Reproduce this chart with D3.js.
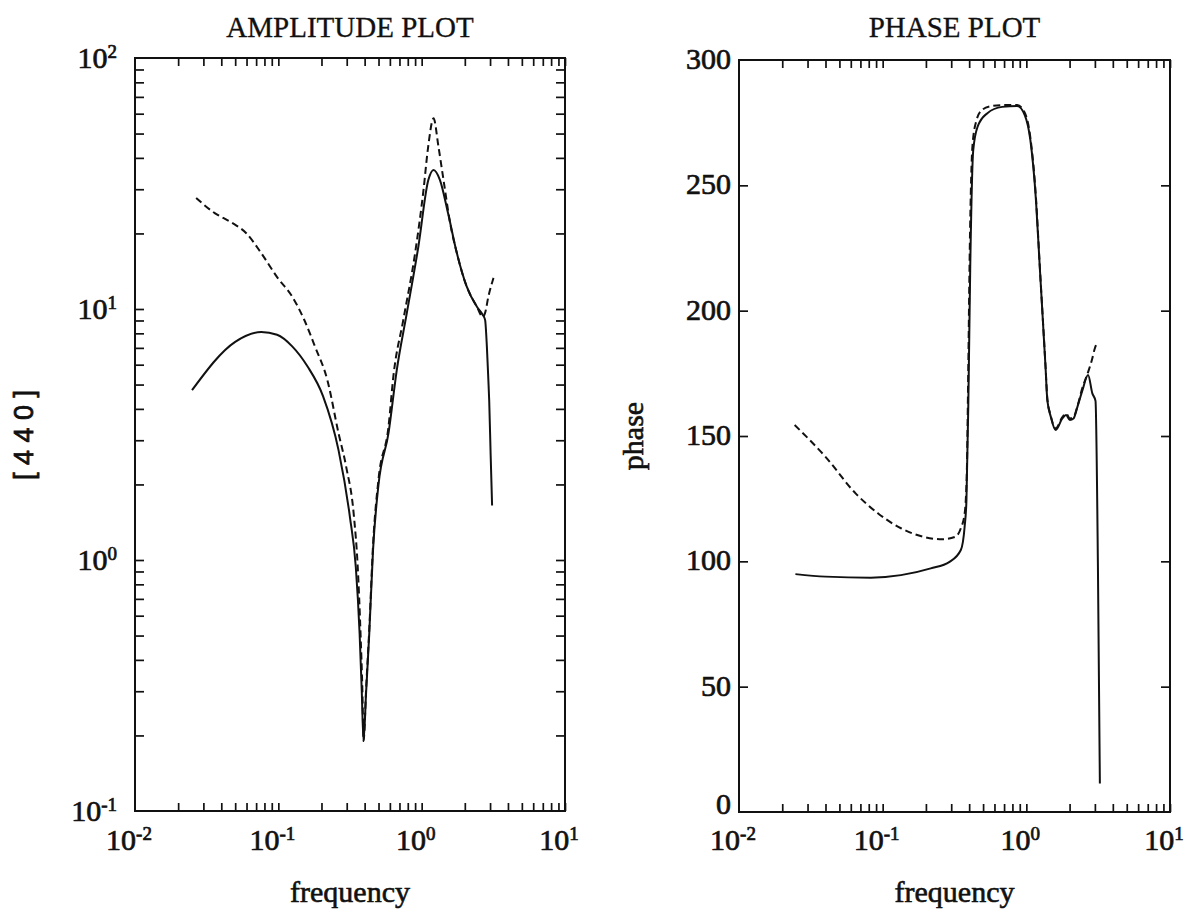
<!DOCTYPE html>
<html>
<head>
<meta charset="utf-8">
<script src="https://cdn.jsdelivr.net/npm/d3@7"></script>
<style>
body { margin: 0; background: #fff; }
text { font-family: "Liberation Serif", "DejaVu Serif", serif; fill: #111; }
</style>
</head>
<body>
<svg id="chart" width="1186" height="920"></svg>
<script>
// amplitude, solid curve
var ampFreqSolid = [0.025, 0.05, 0.076, 0.098, 0.125, 0.16, 0.205, 0.263, 0.316, 0.347, 0.369, 0.382, 0.393, 0.41, 0.431, 0.458, 0.50, 0.587, 0.67, 0.787, 0.948, 1.114, 1.21, 1.34, 1.53, 1.76, 2.06, 2.43, 2.67, 2.77, 2.85, 2.92, 2.96, 3.03, 3.1];
var ampSolid     = [4.75, 7.4, 8.1, 7.9, 7.1, 5.9, 4.5, 2.74, 1.48, 0.94, 0.51, 0.3, 0.19, 0.3, 0.51, 1.1, 2.0, 3.2, 5.7, 9.6, 17.7, 32.7, 35.8, 32.7, 24.0, 16.7, 12.3, 10.2, 9.47, 9.05, 7.1, 5.2, 4.3, 2.6, 1.65];
// amplitude, dashed curve
var ampFreqDash = [0.0267, 0.036, 0.0466, 0.06, 0.076, 0.098, 0.125, 0.151, 0.18, 0.22, 0.263, 0.297, 0.337, 0.358, 0.375, 0.386, 0.393, 0.41, 0.431, 0.458, 0.5, 0.587, 0.635, 0.746, 0.9, 1.03, 1.11, 1.21, 1.31, 1.42, 1.58, 1.76, 2.06, 2.43, 2.67, 2.77, 2.92, 3.17];
var ampDash     = [27.7, 24.1, 22.2, 20, 16.7, 13.4, 11.2, 9.1, 7.1, 5.2, 3.2, 2.36, 1.49, 0.94, 0.5, 0.3, 0.19, 0.31, 0.53, 1.15, 2.1, 3.4, 5.4, 9.1, 16.7, 29.8, 44.3, 57.5, 44.3, 32.7, 22.0, 16.7, 12.3, 10.2, 9.3, 9.65, 11.2, 13.3];
// phase, solid curve
var phFreqSolid = [0.0247, 0.04, 0.0826, 0.134, 0.216, 0.292, 0.35, 0.372, 0.383, 0.395, 0.407, 0.427, 0.458, 0.533, 0.679, 0.864, 0.975, 1.067, 1.167, 1.24, 1.36, 1.4, 1.48, 1.6, 1.78, 1.89, 2.01, 2.13, 2.27, 2.45, 2.69, 2.88, 3.03, 3.15, 3.25];
var phSolid     = [94.9, 93.9, 93.5, 94.5, 97.2, 99.8, 104.5, 113.8, 124.5, 164.3, 217.5, 264, 273.4, 278.7, 281.3, 281.6, 278, 268, 244, 217.5, 177.6, 164.3, 157.7, 152.4, 157, 158.4, 156.4, 157, 161.7, 168, 174.3, 167, 164, 98, 11.4];
// phase, dashed curve
var phFreqDash = [0.0244, 0.04, 0.0648, 0.093, 0.134, 0.192, 0.259, 0.32, 0.35, 0.372, 0.385, 0.393, 0.404, 0.422, 0.45, 0.49, 0.56, 0.679, 0.864, 0.975, 1.067, 1.167, 1.24, 1.36, 1.4, 1.48, 1.6, 1.78, 1.89, 2.01, 2.13, 2.27, 2.45, 2.69, 2.85, 3.0, 3.12];
var phDash     = [154.4, 141.7, 127.1, 119.1, 113.2, 109.8, 108.8, 109.8, 113.2, 119, 135, 170, 225, 266, 276, 280, 281.5, 282, 282, 279, 269, 245, 218, 178, 165, 158, 153, 157.5, 159, 157, 157.5, 162, 169, 175.5, 180, 185, 187.5];

// tick labels
var xLabelExp = ["-2", "-1", "0", "1"];
var ampLabelExp = ["-1", "0", "1", "2"];
var phaseTicks = [0, 50, 100, 150, 200, 250, 300];

var svg = d3.select("#chart");
svg.append("rect").attr("width", 1186).attr("height", 920).attr("fill", "#fff");

// minor ticks 2..10 in every decade
var xMinor = [];
[-2, -1, 0].forEach(function(k){ for (var m = 2; m <= 10; m++) xMinor.push(m * Math.pow(10, k)); });
var ampMinor = [];
[-1, 0, 1].forEach(function(k){ for (var m = 2; m <= 10; m++) if (!(k == 1 && m == 10)) ampMinor.push(m * Math.pow(10, k)); });

function pow10Label(g, x, y, exp, anchor){
	var t = g.append("text").attr("x", x).attr("y", y).attr("text-anchor", anchor)
		.style("font-size", "30px").attr("stroke", "#111").attr("stroke-width", 0.7);
	t.append("tspan").text("10");
	t.append("tspan").attr("dy", -10).style("font-size", "19px").text(exp);
}

function drawPanel(p){
	var g = svg.append("g");
	var x = d3.scaleLog().domain([0.01, 10]).range([p.left, p.right]);
	var y = p.y;

	// frame
	g.append("rect").attr("x", p.left).attr("y", p.top)
		.attr("width", p.right - p.left).attr("height", p.bottom - p.top)
		.attr("fill", "none").attr("stroke", "#111").attr("stroke-width", 2);

	// inward ticks on all four sides
	var axB = g.append("g").attr("transform", "translate(0," + p.bottom + ")")
		.call(d3.axisBottom(x).tickValues(xMinor).tickSize(-8).tickFormat(""));
	var axT = g.append("g").attr("transform", "translate(0," + p.top + ")")
		.call(d3.axisTop(x).tickValues(xMinor).tickSize(-8).tickFormat(""));
	var axL = g.append("g").attr("transform", "translate(" + p.left + ",0)")
		.call(d3.axisLeft(y).tickValues(p.yTicks).tickSize(-9).tickFormat(""));
	var axR = g.append("g").attr("transform", "translate(" + p.right + ",0)")
		.call(d3.axisRight(y).tickValues(p.yTicks).tickSize(-9).tickFormat(""));
	[axB, axT, axL, axR].forEach(function(a){
		a.select(".domain").remove();
		a.selectAll("line").attr("stroke", "#111").attr("stroke-width", 1.7);
	});

	// x tick labels
	xLabelExp.forEach(function(e){
		pow10Label(g, x(Math.pow(10, +e)) - 6, 850, e, "middle");
	});

	// curves
	var line = d3.line().x(function(d){ return x(d[0]); }).y(function(d){ return y(d[1]); })
		.curve(d3.curveMonotoneX);
	g.append("path").datum(d3.zip(p.fSolid, p.vSolid)).attr("d", line)
		.attr("fill", "none").attr("stroke", "#111").attr("stroke-width", 2);
	g.append("path").datum(d3.zip(p.fDash, p.vDash)).attr("d", line)
		.attr("fill", "none").attr("stroke", "#111").attr("stroke-width", 2)
		.attr("stroke-dasharray", "7,4");

	// title and axis titles
	g.append("text").attr("x", (p.left + p.right) / 2).attr("y", 37).attr("text-anchor", "middle")
		.style("font-size", "29px").attr("stroke", "#111").attr("stroke-width", 0.3).text(p.title);
	g.append("text").attr("x", (p.left + p.right) / 2).attr("y", 902).attr("text-anchor", "middle")
		.style("font-size", "30px").attr("stroke", "#111").attr("stroke-width", 0.6).text("frequency");
	return g;
}

// amplitude panel
var yAmp = d3.scaleLog().domain([0.1, 100]).range([811, 58]);
var gA = drawPanel({ left: 135, right: 565, top: 58, bottom: 811, y: yAmp, yTicks: ampMinor,
	fSolid: ampFreqSolid, vSolid: ampSolid, fDash: ampFreqDash, vDash: ampDash, title: "AMPLITUDE PLOT" });
ampLabelExp.forEach(function(e){
	pow10Label(gA, 117, yAmp(Math.pow(10, +e)) + 10, e, "end");
});
gA.append("text").attr("transform", "translate(33,435) rotate(-90)").attr("text-anchor", "middle")
	.style("font-family", "'Liberation Sans', Arial, sans-serif").style("font-size", "27px")
	.attr("stroke", "#111").attr("stroke-width", 0.8).text("[ 4 4 0 ]");

// phase panel
var yPh = d3.scaleLinear().domain([0, 300]).range([812, 60]);
var gP = drawPanel({ left: 739, right: 1170, top: 60, bottom: 812, y: yPh, yTicks: phaseTicks.slice(1, 6),
	fSolid: phFreqSolid, vSolid: phSolid, fDash: phFreqDash, vDash: phDash, title: "PHASE PLOT" });
phaseTicks.forEach(function(v){
	// the "0" sits just above the 10^-2 label, as in the original
	gP.append("text").attr("x", 731).attr("y", Math.min(yPh(v) + 9, 814)).attr("text-anchor", "end")
		.style("font-size", "30px").attr("stroke", "#111").attr("stroke-width", 0.7).text(v);
});
gP.append("text").attr("transform", "translate(643,436) rotate(-90)").attr("text-anchor", "middle")
	.style("font-size", "30px").attr("stroke", "#111").attr("stroke-width", 0.6).text("phase");
</script>
</body>
</html>
